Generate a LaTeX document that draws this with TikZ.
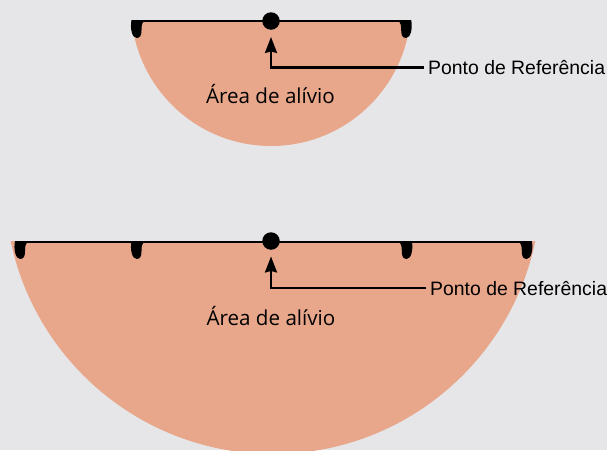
\documentclass[tikz,border=0pt]{standalone}
\usepackage{fontspec}
\usetikzlibrary{arrows.meta}
\newfontfamily\labfont{Liberation Sans}
\newfontfamily\areafont{Open Sans}
\definecolor{bgc}{RGB}{230,230,232}
\definecolor{pinkc}{RGB}{232,166,138}
\tikzset{
  refline/.style={line width=2.5pt, black},
  refdot/.style={circle, fill=black, minimum size=17.5pt, inner sep=0pt},
  pointer/.style={line width=2.4pt, black, -{Stealth[length=16pt,width=12pt,inset=1.5pt]}, shorten >=7pt},
  reflabel/.style={font=\labfont\fontsize{19.4}{22}\selectfont, inner xsep=4pt, inner ysep=0pt, anchor=base west},
  arealabel/.style={font=\areafont\fontsize{20.6}{24}\selectfont, inner sep=0pt, anchor=base},
  droppic/.pic={\fill[black] (-6,-1) .. controls (-7.6,7) and (-5.6,17) .. (-0.8,17)
      .. controls (3.4,17) and (4,13) .. (4,9) .. controls (4,4) and (4.5,1.5) .. (7.8,-1) -- cycle;}
}
\begin{document}
\begin{tikzpicture}[x=1pt,y=-1pt]
\fill[bgc] (0,0) rectangle (607,450);
\useasboundingbox (0,0) rectangle (607,450);
% top figure
\begin{scope}
  \clip (0,20) rectangle (607,450);
  \fill[pinkc] (271,6) circle (140);
\end{scope}
\draw[refline] (132.5,21) -- (410.5,21);
\pic at (137.5,21) {droppic};
\pic[xscale=-1] at (405.2,21) {droppic};
\node[refdot] (dotA) at (271,21) {};
\node[arealabel] (areaA) at (270.5,103) {Área de alívio};
\node[reflabel] (labA) at (424,74.3) {Ponto de Referência};
\draw[pointer] (labA.west) -| (dotA.south);
% bottom figure
\begin{scope}
  \clip (0,241) rectangle (607,450);
  \fill[pinkc] (273,186) circle (268);
\end{scope}
\draw[refline] (15.5,242) -- (531,242);
\pic at (21,242) {droppic};
\pic at (137.5,242) {droppic};
\pic[xscale=-1] at (405.8,242) {droppic};
\pic[xscale=-1] at (525.8,242) {droppic};
\node[refdot] (dotB) at (271,241) {};
\node[arealabel] (areaB) at (271,325.5) {Área de alívio};
\node[reflabel] (labB) at (426,295) {Ponto de Referência};
\draw[pointer, shorten >=6.5pt] (labB.west) -| (dotB.south);
\end{tikzpicture}
\end{document}
